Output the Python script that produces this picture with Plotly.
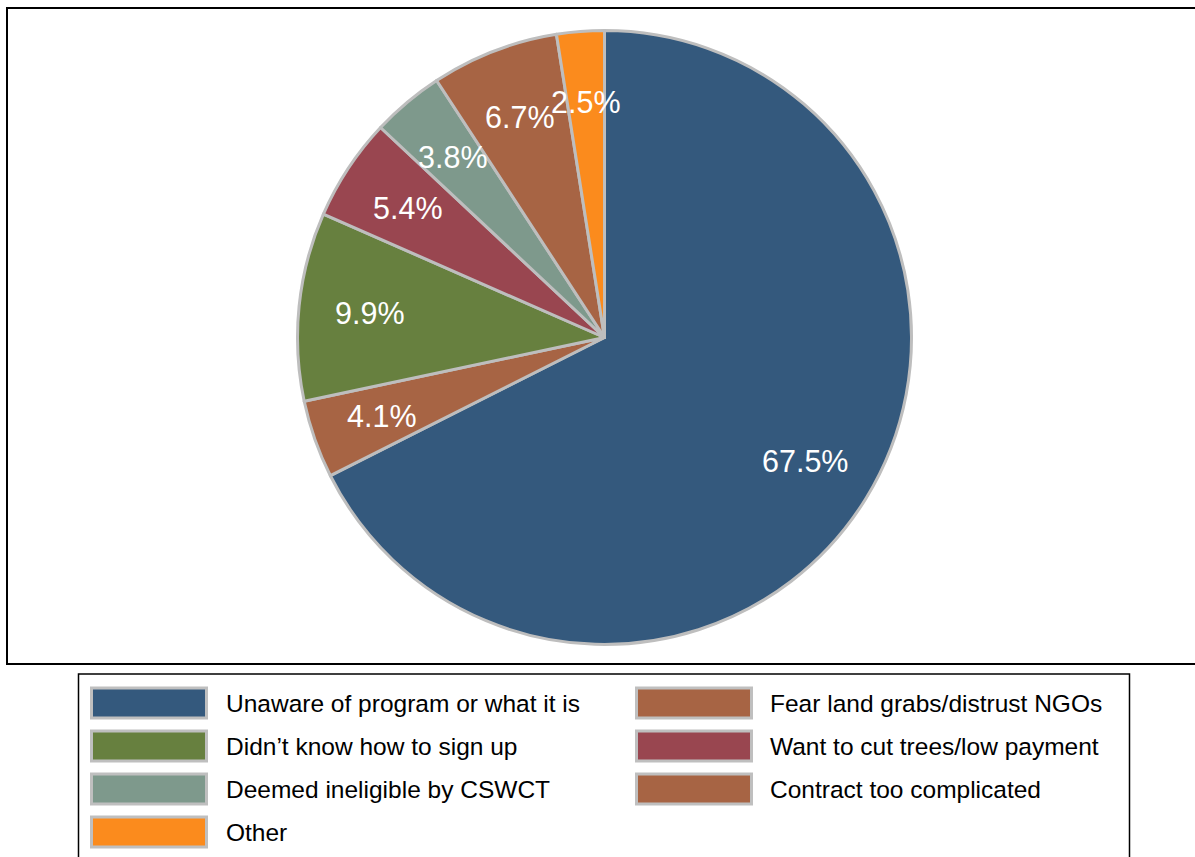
import math
import plotly.graph_objects as go

# ---- data ----
labels = [
    "Unaware of program or what it is",
    "Fear land grabs/distrust NGOs",
    "Didn\u2019t know how to sign up",
    "Want to cut trees/low payment",
    "Deemed ineligible by CSWCT",
    "Contract too complicated",
    "Other",
]
values = [67.5, 4.1, 9.9, 5.4, 3.8, 6.7, 2.5]
colors = ["#34597d", "#a76444", "#67803f", "#994650", "#7e998c", "#a76444", "#fb8b1d"]

W, H = 1195, 857
FONT = "Liberation Sans, Arial, Helvetica, sans-serif"

# pie geometry in pixels
cx, cy, R = 604.5, 337.5, 307
label_r = 236


def px(x):
    return x / W


def py(y):
    return 1 - y / H


fig = go.Figure()
fig.add_trace(go.Pie(
    labels=labels,
    values=values,
    sort=False,
    direction="clockwise",
    rotation=0,
    marker=dict(colors=colors, line=dict(color="#bebebe", width=3)),
    textinfo="none",
    showlegend=False,
    domain=dict(x=[px(cx - R), px(cx + R)], y=[py(cy + R), py(cy - R)]),
))

annotations = []
shapes = []

# percentage labels placed at mid-angle of each slice
total = sum(values)
cum = 0.0
for v in values:
    mid = (cum + v / 2) / total * 2 * math.pi
    cum += v
    lx = cx + label_r * math.sin(mid)
    ly = cy - label_r * math.cos(mid)
    annotations.append(dict(
        x=px(lx), y=py(ly), xref="paper", yref="paper",
        text=f"{v:.1f}%", showarrow=False,
        xanchor="center", yanchor="middle",
        font=dict(family=FONT, size=30.5, color="white"),
    ))

# outer plot-region box
shapes.append(dict(type="rect", xref="paper", yref="paper",
                   x0=px(7), x1=px(1200), y0=py(664), y1=py(8),
                   line=dict(color="black", width=2), fillcolor="rgba(0,0,0,0)"))

# legend box
shapes.append(dict(type="rect", xref="paper", yref="paper",
                   x0=px(78.5), x1=px(1129.5), y0=py(875), y1=py(674),
                   line=dict(color="black", width=1.5), fillcolor="rgba(0,0,0,0)"))

col_sw = [90, 635]
col_tx = [224, 768]
row_y0 = 703
row_dy = 43
sw_w, sw_h = 118, 33
for i, (lab, col) in enumerate(zip(labels, colors)):
    c, r = i % 2, i // 2
    yc = row_y0 + r * row_dy
    x0 = col_sw[c] + 1.5
    shapes.append(dict(type="rect", xref="paper", yref="paper",
                       x0=px(x0), x1=px(x0 + sw_w - 3),
                       y0=py(yc + sw_h / 2 - 1.5), y1=py(yc - sw_h / 2 + 1.5),
                       line=dict(color="#bfbfbf", width=3), fillcolor=col))
    annotations.append(dict(
        x=px(col_tx[c]), y=py(yc), xref="paper", yref="paper",
        text=lab, showarrow=False, xanchor="left", yanchor="middle",
        font=dict(family=FONT, size=24.5, color="black"),
    ))

fig.update_layout(
    width=W, height=H,
    margin=dict(l=0, r=0, t=0, b=0),
    paper_bgcolor="white",
    plot_bgcolor="white",
    annotations=annotations,
    shapes=shapes,
)

fig.write_html("out.html", config={"displayModeBar": False},
               post_script="document.body.style.margin='0px';")
